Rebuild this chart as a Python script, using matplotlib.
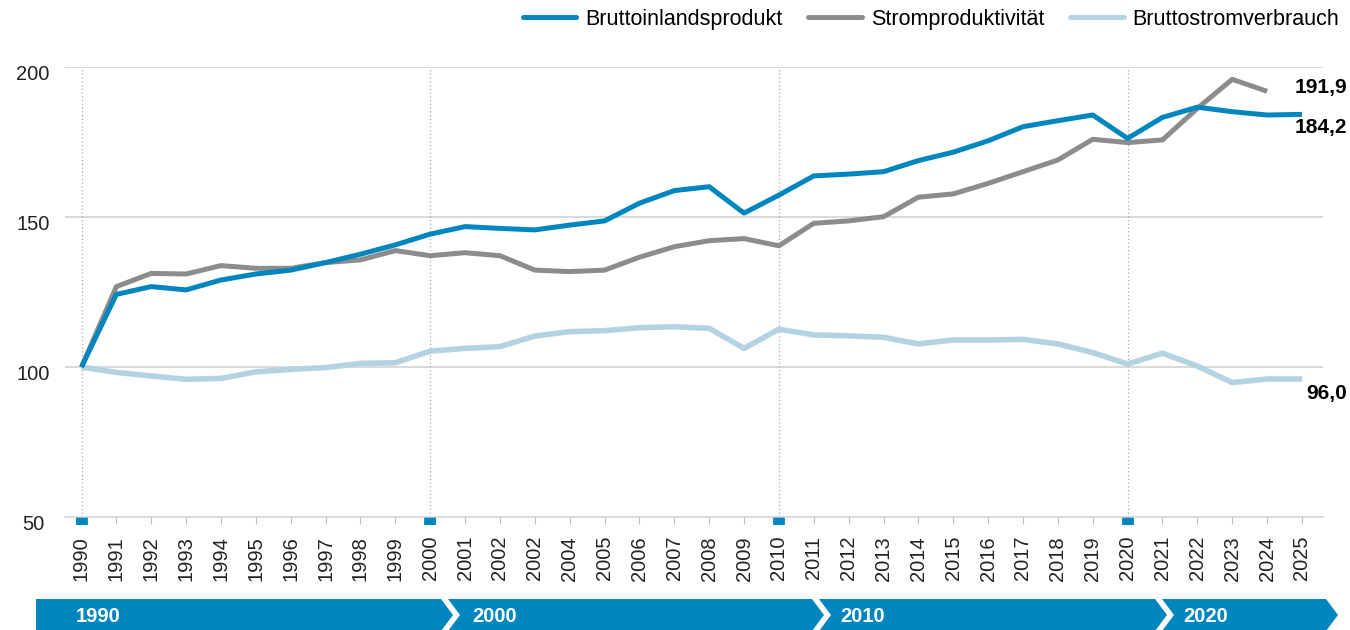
import numpy as np
import matplotlib
matplotlib.use("Agg")
import matplotlib.pyplot as plt
from matplotlib.lines import Line2D
from matplotlib.patches import Polygon
from matplotlib.transforms import ScaledTranslation

plt.rcParams["font.family"] = ["Liberation Sans", "DejaVu Sans"]

# ---------------- data (index 1990 = 100) ----------------
years = ["1990", "1991", "1992", "1993", "1994", "1995", "1996", "1997",
         "1998", "1999", "2000", "2001", "2002", "2002", "2004", "2005",
         "2006", "2007", "2008", "2009", "2010", "2011", "2012", "2013",
         "2014", "2015", "2016", "2017", "2018", "2019", "2020", "2021",
         "2022", "2023", "2024", "2025"]
bip = [100, 124.2, 126.8, 125.7, 129.0, 131.0, 132.3, 134.8, 137.6, 140.7,
       144.3, 146.8, 146.2, 145.7, 147.3, 148.7, 154.6, 158.8, 160.1, 151.3,
       157.3, 163.7, 164.3, 165.1, 168.8, 171.6, 175.4, 180.1, 182.1, 184.0,
       176.2, 183.2, 186.6, 185.1, 184.0, 184.2]
strom_prod = [100, 126.8, 131.2, 131.0, 133.8, 132.9, 132.9, 134.8, 135.7,
              138.8, 137.1, 138.1, 137.1, 132.3, 131.8, 132.3, 136.6, 140.1,
              142.1, 142.8, 140.4, 147.9, 148.7, 150.1, 156.6, 157.7, 161.2,
              165.1, 169.0, 175.9, 174.8, 175.7, 186.2, 195.9, 191.9, np.nan]
verbrauch = [100, 98.2, 97.0, 95.9, 96.2, 98.4, 99.2, 99.8, 101.2, 101.4,
             105.3, 106.2, 106.8, 110.3, 111.8, 112.1, 113.1, 113.4, 112.9,
             106.2, 112.6, 110.7, 110.4, 109.9, 107.7, 109.0, 109.0, 109.2,
             107.7, 104.8, 101.0, 104.6, 100.3, 94.8, 96.0, 96.0]
decades = ["1990", "2000", "2010", "2020"]
yticks = [50, 100, 150, 200]
series_names = ["Bruttoinlandsprodukt", "Stromproduktivität",
                "Bruttostromverbrauch"]

BLUE, GREY, LIGHT = "#0086BF", "#8C8C8C", "#B4D3E2"
GRID = "#CFCFCF"

# ---------------- layout (pixels) ----------------
W, H = 1350, 630
X0, STEP = 81.5, 34.87          # pixel position of first year, spacing
AX_L, AX_R, AX_T, AX_B = 65, 1323, 67, 517

fig = plt.figure(figsize=(W/100, H/100), dpi=100)
ax = fig.add_axes([AX_L/W, 1 - AX_B/H, (AX_R-AX_L)/W, (AX_B-AX_T)/H])

x = np.arange(len(years))
dec_idx = [years.index(d) for d in decades]

ax.set_xlim((AX_L - X0)/STEP, (AX_R - X0)/STEP)
ax.set_ylim(50, 200)

for v in yticks[1:]:
    ax.axhline(v, color=GRID, lw=1.1, zorder=0)
for i in dec_idx:
    ax.axvline(i, color="#A8A8A8", lw=0.9, ls=(0, (1, 2)), zorder=0)

ax.plot(x, verbrauch, color=LIGHT, lw=4.0, solid_capstyle="butt",
        zorder=2, clip_on=False)
ax.plot(x, strom_prod, color=GREY, lw=3.6, solid_capstyle="butt",
        zorder=3, clip_on=False)
ax.plot(x, bip, color=BLUE, lw=3.6, solid_capstyle="butt",
        zorder=4, clip_on=False)

# end labels
px = 0.72
ax.annotate("191,9", xy=(x[34], strom_prod[34]), xytext=(80*px, 4*px),
            textcoords="offset points", ha="right", va="center",
            fontsize=15, fontweight="bold")
ax.annotate("184,2", xy=(x[-1], bip[-1]), xytext=(45*px, -13*px),
            textcoords="offset points", ha="right", va="center",
            fontsize=15, fontweight="bold")
ax.annotate("96,0", xy=(x[-1], verbrauch[-1]), xytext=(45*px, -15*px),
            textcoords="offset points", ha="right", va="center",
            fontsize=15, fontweight="bold")

# axes styling
for s in ["top", "right", "left"]:
    ax.spines[s].set_visible(False)
ax.spines["bottom"].set_color(GRID)
ax.spines["bottom"].set_linewidth(1.1)

ax.set_xticks(x, years, rotation=90)
ax.tick_params(axis="x", length=5, width=0.8, color="#BDBDBD", pad=8.6,
               labelsize=14.5, labelcolor="#222222")
ax.xaxis.remove_overlapping_locs = False
ax.set_xticks(dec_idx, minor=True)
ax.tick_params(axis="x", which="minor", length=5.5, width=8.5, color=BLUE)

ax.set_yticks(yticks, [str(v) for v in yticks])
ax.tick_params(axis="y", length=0, pad=23, labelsize=14.5,
               labelcolor="#222222")
shift = ScaledTranslation(0, -6/100, fig.dpi_scale_trans)
for lbl in ax.get_yticklabels():
    lbl.set_ha("center")
    lbl.set_transform(lbl.get_transform() + shift)

# legend
handles = [Line2D([], [], color=c, lw=3.6, solid_capstyle="round")
           for c in (BLUE, GREY, LIGHT)]
fig.legend(handles, series_names, loc="upper right", ncol=3,
           bbox_to_anchor=(1339/W, 1 - 9/H), frameon=False, fontsize=15.5,
           handlelength=2.5, handletextpad=0.4, columnspacing=1.2,
           borderpad=0, borderaxespad=0)

# decade band at the bottom
BAND_T, BAND_B, DEPTH = 599, 631, 12
BAND_M = (BAND_T + BAND_B) / 2
band_edges = [(36, 441), (448, 812), (819, 1155), (1162, 1326)]
band_text_x = [76, 472, 840, 1183]
for k, ((l, r), lab, tx) in enumerate(zip(band_edges, decades, band_text_x)):
    notch = 0 if k == 0 else DEPTH
    pts = [(l, BAND_T), (r, BAND_T), (r + DEPTH, BAND_M), (r, BAND_B),
           (l, BAND_B), (l + notch, BAND_M)]
    pts = [(a/W, 1 - b/H) for a, b in pts]
    fig.patches.append(Polygon(pts, closed=True, facecolor=BLUE,
                               edgecolor="none", transform=fig.transFigure))
    fig.text(tx/W, 1 - 617/H, lab, color="white", fontsize=14.5,
             fontweight="bold", ha="left", va="center")

fig.savefig("out.png", dpi=100)
